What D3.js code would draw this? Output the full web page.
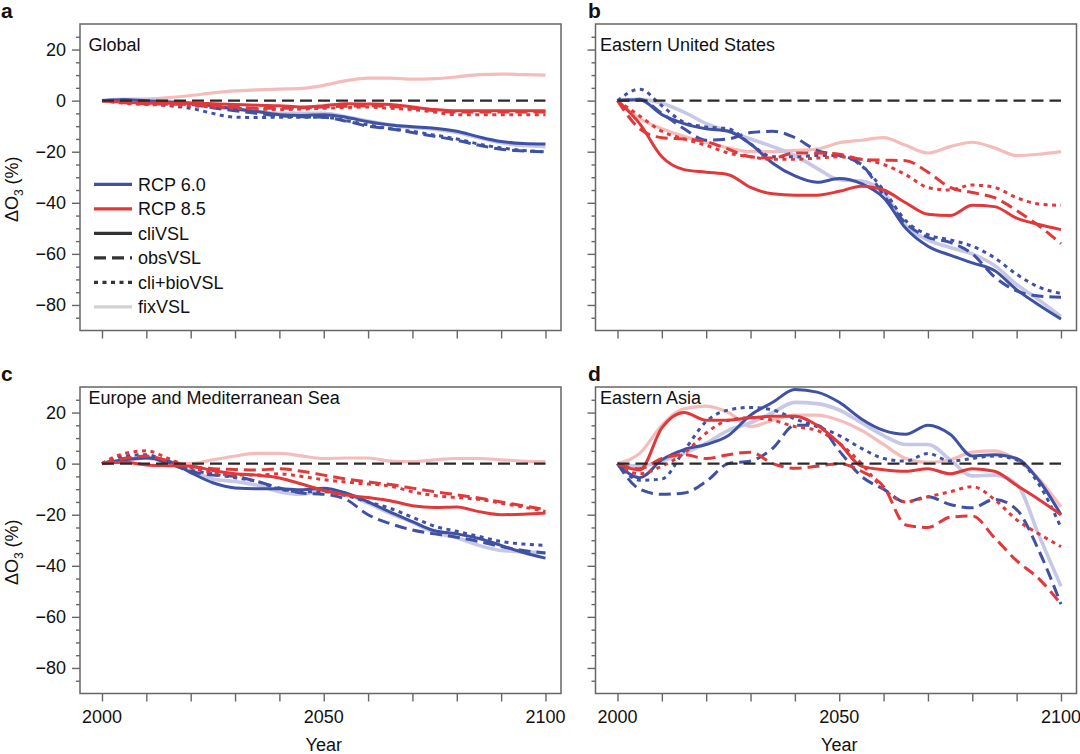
<!DOCTYPE html>
<html><head><meta charset="utf-8">
<script src="https://cdn.jsdelivr.net/npm/d3@7"></script>
<style>
body{margin:0;background:#fff}
svg{display:block}
text{font-family:"Liberation Sans",Arial,Helvetica,sans-serif;fill:#111}
</style>
</head><body>
<svg id="chart" width="1080" height="754"></svg>
<script>
// ---------------- data ----------------
const years = [2000,2005,2010,2015,2020,2025,2030,2035,2040,2045,2050,2055,2060,2065,2070,2075,2080,2085,2090,2095,2100];
const xTickYears = [2000,2010,2020,2030,2040,2050,2060,2070,2080,2090,2100];
const xTickLabels = [2000,2050,2100];
const yTickLabels = [20,0,-20,-40,-60,-80];
const yMinorTicks = [25,15,10,5,-5,-10,-15,-25,-30,-35,-45,-50,-55,-65,-70,-75,-85];
const panelLetters = ["a","b","c","d"];
const panelTitles = ["Global","Eastern United States","Europe and Mediterranean Sea","Eastern Asia"];
const scenarios = ["RCP 6.0","RCP 8.5"];
const variants = ["cliVSL","obsVSL","cli+bioVSL","fixVSL"];
const zeroLine = [0,0,0,0,0,0,0,0,0,0,0,0,0,0,0,0,0,0,0,0,0];

// a: Global
const a60cli = [0,0.3,0,-0.5,-1,-2,-3.2,-4.3,-5.5,-5.8,-5.5,-6.5,-8.3,-9.5,-10.2,-10.8,-12,-14.2,-16,-16.8,-17];
const a60obs = [0,0.2,-0.3,-0.8,-1.5,-2.8,-4,-5,-6,-6.3,-6.5,-8,-10,-11,-12.5,-14,-15.5,-17.5,-19,-19.7,-20];
const a60bio = [0,0,-1,-2,-3,-5,-6.5,-6.6,-6.5,-6.5,-6.5,-7.8,-9.5,-11,-12,-13.5,-15,-17,-18.5,-19.5,-20];
const a60fix = [0,0.5,0.5,-0.3,-1,-2.2,-3.5,-4.2,-5,-5,-5,-6.3,-8,-9.5,-10.5,-11.2,-12.5,-14.5,-16.5,-17.6,-18];
const a85cli = [0,-0.6,-1,-1,-1,-1.2,-1.5,-1.8,-2,-2.5,-2,-1.2,-1.3,-1.5,-2.5,-3.5,-4,-4,-4,-4,-4];
const a85obs = [0,-0.8,-1.3,-1.4,-1.5,-2,-2.5,-3,-3,-2.8,-2.5,-2.2,-2,-2.3,-3,-4,-4.5,-4.5,-4.5,-4.5,-4.5];
const a85bio = [0,-1,-1.5,-1.8,-2,-2.5,-3,-3.3,-3.5,-3.3,-3,-2.7,-2.5,-3,-3.5,-4.5,-5.5,-5.5,-5.5,-5.5,-5.5];
const a85fix = [0,0.3,0.5,1.2,2,3,3.8,4.2,4.5,4.8,6,7.8,8.8,8.8,8.4,8.6,9.3,10.2,10.4,10.2,10];

// b: Eastern United States
const b60cli = [0,0.3,-5.5,-9,-11,-12,-17,-24.5,-29.5,-32,-30.5,-32.5,-38,-50,-57,-60.5,-63.5,-66.5,-74,-80,-85.5];
const b60obs = [0,0.5,-5,-11,-15.5,-15,-12.5,-12,-14.5,-19.5,-21.5,-25,-37,-48,-53.5,-55.5,-60,-69,-74.5,-76.5,-77];
const b60bio = [0,4.5,-2,-8.5,-10.3,-11,-17,-22,-22,-21.5,-21.5,-25.5,-35,-47,-52.5,-54.5,-57,-61.5,-68,-73,-75.5];
const b60fix = [0,0.5,-1,-4.5,-9,-12,-15,-18,-21.5,-26.5,-31,-31.5,-36,-49,-54.5,-57.5,-60,-64.5,-72,-78,-84.5];
const b85cli = [0,-9,-22,-27,-28,-29,-34,-36.5,-37,-37,-35.5,-33.5,-35,-40,-44.5,-45,-41,-41.5,-46,-48.5,-50.5];
const b85obs = [0,-11,-14.5,-15,-16,-19,-22,-22.5,-20.5,-20.5,-21,-23,-23.3,-23.5,-28,-34,-36,-38,-43,-49,-56];
const b85bio = [0,-6,-12,-15,-17.5,-20.5,-22,-23,-23,-22.5,-22,-23,-25,-29,-34,-35,-33,-34,-38,-40.5,-41];
const b85fix = [0,-7,-11,-14,-16.5,-18.5,-20,-20,-19.5,-19,-16.5,-15.5,-14.5,-17.5,-20.5,-18,-16.3,-18.5,-21.5,-21,-20];

// c: Europe and Mediterranean Sea
const c60cli = [0,1.5,2.2,1,-3.5,-7.5,-9.5,-9.8,-9.8,-10.2,-9.6,-11.5,-15,-19,-22.7,-26.3,-27.5,-29.3,-32,-34.8,-37];
const c60obs = [0,2,2.5,0,-3,-4.5,-5,-7,-9.5,-11.5,-12,-14,-20,-23.5,-26,-27.5,-28.8,-30.5,-32.5,-34,-35];
const c60bio = [0,3,3.5,0.5,-2.5,-4,-5.5,-7,-10,-11,-11,-12.5,-15,-17.5,-21,-24.5,-26.5,-28.5,-30.5,-31.5,-32];
const c60fix = [0,1.5,2.5,1,-3,-6,-7,-8.5,-11,-12,-10.5,-12,-15.5,-19.5,-23,-27,-29,-32,-34,-34.5,-35];
const c85cli = [0,0.5,-0.5,-0.8,-1,-2.7,-4,-4.5,-5.6,-8,-10.5,-12.3,-13.3,-14.5,-16.5,-17.2,-17,-18.8,-20,-19.8,-19.3];
const c85obs = [0,2,3,1,-1,-2,-2.3,-2.5,-2,-3,-4.5,-6,-7.2,-8.2,-9.6,-11,-12.2,-13.5,-15,-16.5,-18];
const c85bio = [0,4,5,2,-1.5,-3.5,-4.5,-4.5,-4,-5,-6.3,-7.2,-8,-8.8,-11,-12.5,-13.3,-14,-15.5,-17,-18.7];
const c85fix = [0,1,2,0.5,0,1.5,3,4,4,3,2,2.2,2.2,1,0.8,1.5,2,2,1.5,1,0.8];

// d: Eastern Asia
const d60cli = [0,-5.5,1.5,5.5,7.5,11,19,24,29,28,24,17.5,13,11.5,15,11.5,3,3.5,2,-6.5,-20];
const d60obs = [0,-10,-12,-11.5,-7,0,1,6,15,15,5,-5,-10,-15,-13,-16,-17.3,-14,-18,-34,-55];
const d60bio = [0,-6.5,-6,5,16.5,21,22,21,17.5,14.5,11,6,2,1,4,1,2,3,1.5,-8,-25];
const d60fix = [0,-1,1,4,8,13,16,20,24,23.5,21,16,11,7.5,7.5,1.5,-4.8,-4.5,-8,-28,-48];
const d85cli = [0,-2.5,14,20,17,17,18,18.5,18.5,15,8,-1,-2.4,-3,-2,-4,-2,-3,-8.5,-14,-20];
const d85obs = [0,-2,2,3.5,2,3.5,4.5,0,-1.8,-1,0,-3,-9,-24,-25,-21,-20.5,-29,-38,-45,-55];
const d85bio = [0,-4,-1,4,12,17,18,17,14.5,13,8,0,-10,-15,-13,-11,-9,-14,-22,-27.5,-32.5];
const d85fix = [0,4,15,21.5,22.5,20,14.5,17,19,19,17,13,7.5,2,0.5,1.5,4.5,5,1.5,-6,-17];

const panelSeries = [
  {r60:[a60cli,a60obs,a60bio,a60fix], r85:[a85cli,a85obs,a85bio,a85fix]},
  {r60:[b60cli,b60obs,b60bio,b60fix], r85:[b85cli,b85obs,b85bio,b85fix]},
  {r60:[c60cli,c60obs,c60bio,c60fix], r85:[c85cli,c85obs,c85bio,c85fix]},
  {r60:[d60cli,d60obs,d60bio,d60fix], r85:[d85cli,d85obs,d85bio,d85fix]}
];

// ---------------- styles ----------------
const blue = "#3f51a3", red = "#e2383a", lightBlue = "#c6c8e6", lightRed = "#f5bcbc";
const dashes = [null, "12,6", "4,4.5", null];
const legendColors = [blue, red, "#333", "#333", "#333", "#d2d2d2"];
const legendDash = [null, null, null, "12,6", "4,4.5", null];

// ---------------- layout ----------------
const svg = d3.select("#chart");
const W = 481, H = 306.5;
const panelPos = [[80,24],[595.5,24],[80,387],[595.5,387]];
const x = d3.scaleLinear().domain([1995.04, 2103.5]).range([0, W]);
const y = d3.scaleLinear().domain([-90, 30]).range([H, 0]);
const fmt = d3.format("d");
const line = d3.line().x((d,i)=>x(years[i])).y(d=>y(d)).curve(d3.curveMonotoneX);

panelPos.forEach((pos, p) => {
  const g = svg.append("g").attr("transform", `translate(${pos[0]},${pos[1]})`);
  const isLeft = p % 2 === 0, isBottom = p >= 2;

  // axes ticks
  const yMinor = d3.axisLeft(y).tickValues(yMinorTicks).tickSize(4).tickFormat("");
  const yMajor = d3.axisLeft(y).tickValues(yTickLabels).tickSize(8).tickPadding(6)
      .tickFormat(isLeft ? fmt : "");
  const xAx = d3.axisBottom(x).tickValues(xTickYears).tickSize(8).tickFormat("");
  [yMinor, yMajor].forEach(ax => {
    const a = g.append("g").call(ax);
    a.select(".domain").remove();
    a.selectAll("line").attr("stroke", "#666").attr("stroke-width", 1.4);
    a.selectAll("text").attr("font-size", 18).attr("fill", "#111")
      .style("font-family", '"Liberation Sans",Arial,sans-serif');
  });
  const xa = g.append("g").attr("transform", `translate(0,${H})`).call(xAx);
  xa.select(".domain").remove();
  xa.selectAll("line").attr("stroke", "#666").attr("stroke-width", 1.4);

  if (isBottom) {
    g.selectAll(".xlab").data(xTickLabels).enter().append("text")
      .attr("x", d => x(d)).attr("y", H + 29.5).attr("text-anchor", "middle")
      .attr("font-size", 18).text(d => d);
    g.append("text").attr("x", x(2050)).attr("y", H + 57.5).attr("text-anchor", "middle")
      .attr("font-size", 18).text("Year");
  }
  if (isLeft) {
    const yl = g.append("text").attr("transform", `translate(${18 - pos[0]},${H/2 + 12}) rotate(-90)`)
      .attr("text-anchor", "middle").attr("font-size", 18);
    yl.append("tspan").text("\u0394O");
    yl.append("tspan").attr("font-size", 12).attr("dy", 5).text("3");
    yl.append("tspan").attr("dy", -5).text(" (%)");
  }

  // lines
  const S = panelSeries[p];
  const lg = g.append("g");
  const drawLine = (vals, color, dash, width) => {
    lg.append("path").datum(vals).attr("d", line).attr("fill", "none")
      .attr("stroke", color).attr("stroke-width", width)
      .attr("stroke-dasharray", dash).attr("stroke-linejoin", "round");
  };
  drawLine(S.r85[3], lightRed, null, 3.2);
  drawLine(S.r60[3], lightBlue, null, 3.6);
  for (let v = 0; v < 3; v++) drawLine(S.r60[v], blue, dashes[v], 3);
  for (let v = 0; v < 3; v++) drawLine(S.r85[v], red, dashes[v], 3);
  drawLine(zeroLine, "#2a2a2a", "12,6", 2.4);

  // frame
  g.append("rect").attr("width", W).attr("height", H).attr("fill", "none")
    .attr("stroke", "#666").attr("stroke-width", 1.5);

  // title & letter
  g.append("text").attr("x", isLeft ? 8.5 : 4.5).attr("y", isBottom ? 17 : 27)
    .attr("font-size", 18).text(panelTitles[p]);
  svg.append("text").attr("x", isLeft ? 1 : 588).attr("y", isBottom ? 381 : 18)
    .attr("font-size", 21).attr("font-weight", "bold").text(panelLetters[p]);

  // legend in panel a
  if (p === 0) {
    const labels = scenarios.concat(variants);
    const lgd = g.append("g").attr("transform", "translate(14,160.3)");
    labels.forEach((lab, i) => {
      const yy = i * 24.5;
      lgd.append("line").attr("x1", 0).attr("x2", 38).attr("y1", yy).attr("y2", yy)
        .attr("stroke", legendColors[i]).attr("stroke-width", 3.2)
        .attr("stroke-dasharray", legendDash[i]);
      lgd.append("text").attr("x", 44).attr("y", yy + 6.5).attr("font-size", 18).text(lab);
    });
  }
});
</script>
</body></html>
